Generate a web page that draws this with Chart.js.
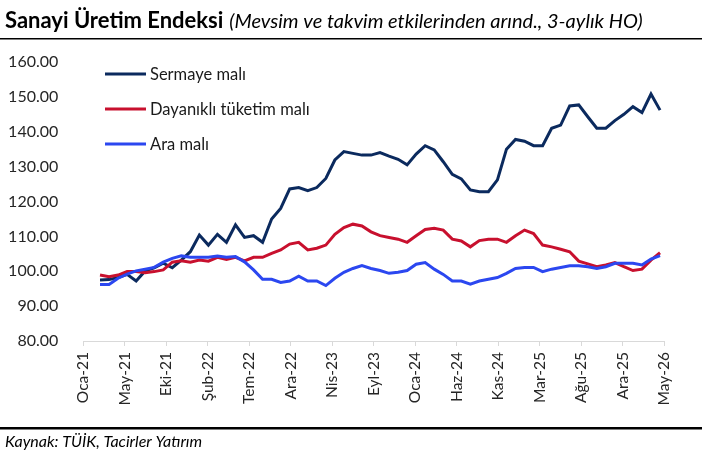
<!DOCTYPE html>
<html>
<head>
<meta charset="utf-8">
<script src="https://cdn.jsdelivr.net/npm/chart.js@4.4.1/dist/chart.umd.min.js"></script>
<style>
  html, body { margin: 0; padding: 0; background: #fff; }
  #wrap { position: relative; width: 702px; height: 456px; }
</style>
</head>
<body>
<div id="wrap"><canvas id="chart" width="702" height="456"></canvas></div>
<script>
(function () {
    "use strict";

    // Tick labels of the date axis
    var tickLabels = ['Oca-21', 'May-21', 'Eki-21', 'Şub-22', 'Tem-22', 'Ara-22', 'Nis-23', 'Eyl-23',
        'Oca-24', 'Haz-24', 'Kas-24', 'Mar-25', 'Ağu-25', 'Ara-25', 'May-26'];

    var seriesNames = ['Sermaye malı', 'Dayanıklı tüketim malı', 'Ara malı'];

    // Monthly values, 3-month moving average
    var sermaye = [97.5, 97.6, 98.2, 99.1, 97.2, 100.1, 101.0, 102.3, 101.0, 103.2,
        105.6, 110.4, 107.5, 110.6, 108.3, 113.3, 109.7, 110.2, 108.3, 115.0,
        118.0, 123.6, 124.0, 123.1, 124.0, 126.6, 131.9, 134.3, 133.8, 133.3,
        133.3, 134.0, 133.0, 132.1, 130.5, 133.6, 136.0, 134.8, 131.4, 127.8,
        126.5, 123.3, 122.8, 122.8, 126.2, 135.0, 137.8, 137.3, 136.0, 136.0,
        141.0, 141.9, 147.4, 147.7, 144.3, 141.0, 141.0, 143.2, 145.0, 147.2,
        145.5, 150.8, 146.2];
    var dayanikli = [98.9, 98.4, 98.9, 99.9, 99.9, 99.6, 99.9, 100.4, 102.6, 103.0,
        102.6, 103.2, 102.9, 104.0, 103.4, 104.0, 103.0, 104.0, 104.0, 105.1,
        106.1, 107.8, 108.3, 106.1, 106.6, 107.5, 110.6, 112.5, 113.5, 113.0,
        111.3, 110.2, 109.7, 109.2, 108.3, 110.2, 112.0, 112.3, 111.8, 109.2,
        108.7, 107.0, 108.8, 109.2, 109.2, 108.3, 110.2, 111.8, 110.8, 107.5,
        107.0, 106.3, 105.6, 102.9, 102.1, 101.3, 101.8, 102.5, 101.3, 100.2,
        100.6, 103.2, 105.3];
    var ara = [96.2, 96.2, 98.0, 99.2, 100.1, 100.6, 101.1, 102.6, 103.7, 104.4,
        104.0, 104.0, 104.0, 104.4, 104.0, 104.2, 102.7, 100.4, 97.7, 97.7,
        96.8, 97.2, 98.6, 97.2, 97.2, 95.9, 98.0, 99.7, 100.8, 101.6,
        100.8, 100.2, 99.4, 99.7, 100.2, 102.0, 102.5, 100.6, 99.1, 97.2,
        97.2, 96.3, 97.2, 97.7, 98.2, 99.4, 100.8, 101.1, 101.1, 99.9,
        100.6, 101.1, 101.6, 101.6, 101.3, 100.8, 101.3, 102.3, 102.3, 102.3,
        101.8, 103.5, 104.5];

    var colors = ['#0b2a5e', '#c8102e', '#2b47f0'];

    var FONT = 'Lato, "Open Sans", sans-serif';

    function toPoints(arr) {
        return arr.map(function (v, i) { return {x: i, y: v}; });
    }

    // Title, rules and source text
    var frame = {
        id: 'frame',
        afterDraw: function (chart) {
            var ctx = chart.ctx;
            ctx.save();
            ctx.fillStyle = '#000';
            ctx.textBaseline = 'alphabetic';
            ctx.textAlign = 'left';
            ctx.font = 'bold 22px ' + FONT;
            var t1 = 'Sanayi Üretim Endeksi';
            ctx.fillText(t1, 5, 28);
            var w = ctx.measureText(t1).width;
            ctx.font = 'italic 20px ' + FONT;
            ctx.fillText('(Mevsim ve takvim etkilerinden arınd., 3-aylık HO)', 5 + w + 6, 28);
            ctx.fillRect(0, 38, 702, 1.5);
            ctx.fillRect(0, 427, 702, 2.5);
            ctx.font = 'italic 16px ' + FONT;
            ctx.fillText('Kaynak: TÜİK, Tacirler Yatırım', 5, 447);

            // legend inside the plot
            ctx.font = '16.5px ' + FONT;
            ctx.textBaseline = 'middle';
            chart.data.datasets.forEach(function (ds, i) {
                var y = 74 + 35 * i;
                ctx.strokeStyle = ds.borderColor;
                ctx.lineWidth = 3;
                ctx.beginPath();
                ctx.moveTo(105, y);
                ctx.lineTo(146, y);
                ctx.stroke();
                ctx.fillStyle = '#1a1a1a';
                ctx.fillText(ds.label, 150, y + 1);
            });
            ctx.restore();
        }
    };

    var xMin = -1.85, xMax = 62.44;

    function draw() {
        var ctx = document.getElementById('chart').getContext('2d');
        new Chart(ctx, {
            type: 'line',
            data: {
                datasets: [
                    {label: seriesNames[0], data: toPoints(sermaye), borderColor: colors[0], order: 2},
                    {label: seriesNames[1], data: toPoints(dayanikli), borderColor: colors[1], order: 1},
                    {label: seriesNames[2], data: toPoints(ara), borderColor: colors[2], order: 0}
                ]
            },
            options: {
                responsive: false,
                animation: false,
                layout: {padding: {left: 0, right: 38, top: 62, bottom: 0}},
                elements: {
                    line: {borderWidth: 3, tension: 0, fill: false},
                    point: {radius: 0}
                },
                plugins: {legend: {display: false}, tooltip: {enabled: false}, title: {display: false}},
                scales: {
                    x: {
                        type: 'linear',
                        min: xMin,
                        max: xMax,
                        afterBuildTicks: function (scale) {
                            var n = tickLabels.length;
                            scale.ticks = tickLabels.map(function (_, i) {
                                return {value: xMin + i * (xMax - xMin) / (n - 1)};
                            });
                        },
                        afterFit: function (scale) { scale.height = 115; },
                        grid: {display: true, drawOnChartArea: false, drawTicks: true, tickLength: 5, color: '#d9d9d9'},
                        border: {display: true, color: '#d9d9d9', width: 1},
                        ticks: {
                            autoSkip: false,
                            minRotation: 90,
                            maxRotation: 90,
                            padding: 6,
                            color: '#262626',
                            font: {family: FONT, size: 15.5},
                            callback: function (v, i) { return tickLabels[i]; }
                        }
                    },
                    y: {
                        min: 80,
                        max: 160,
                        afterFit: function (scale) { scale.width = 83.3; },
                        grid: {display: false},
                        border: {display: false},
                        ticks: {
                            stepSize: 10,
                            padding: 17,
                            color: '#262626',
                            font: {family: FONT, size: 16},
                            callback: function (v) { return v.toFixed(2); }
                        }
                    }
                }
            },
            plugins: [frame]
        });
    }

    if (document.fonts && document.fonts.load) {
        Promise.all([
            document.fonts.load('bold 22px Lato'),
            document.fonts.load('italic 20px Lato'),
            document.fonts.load('16px Lato')
        ]).then(draw, draw);
    } else {
        draw();
    }
})();
</script>
</body>
</html>
